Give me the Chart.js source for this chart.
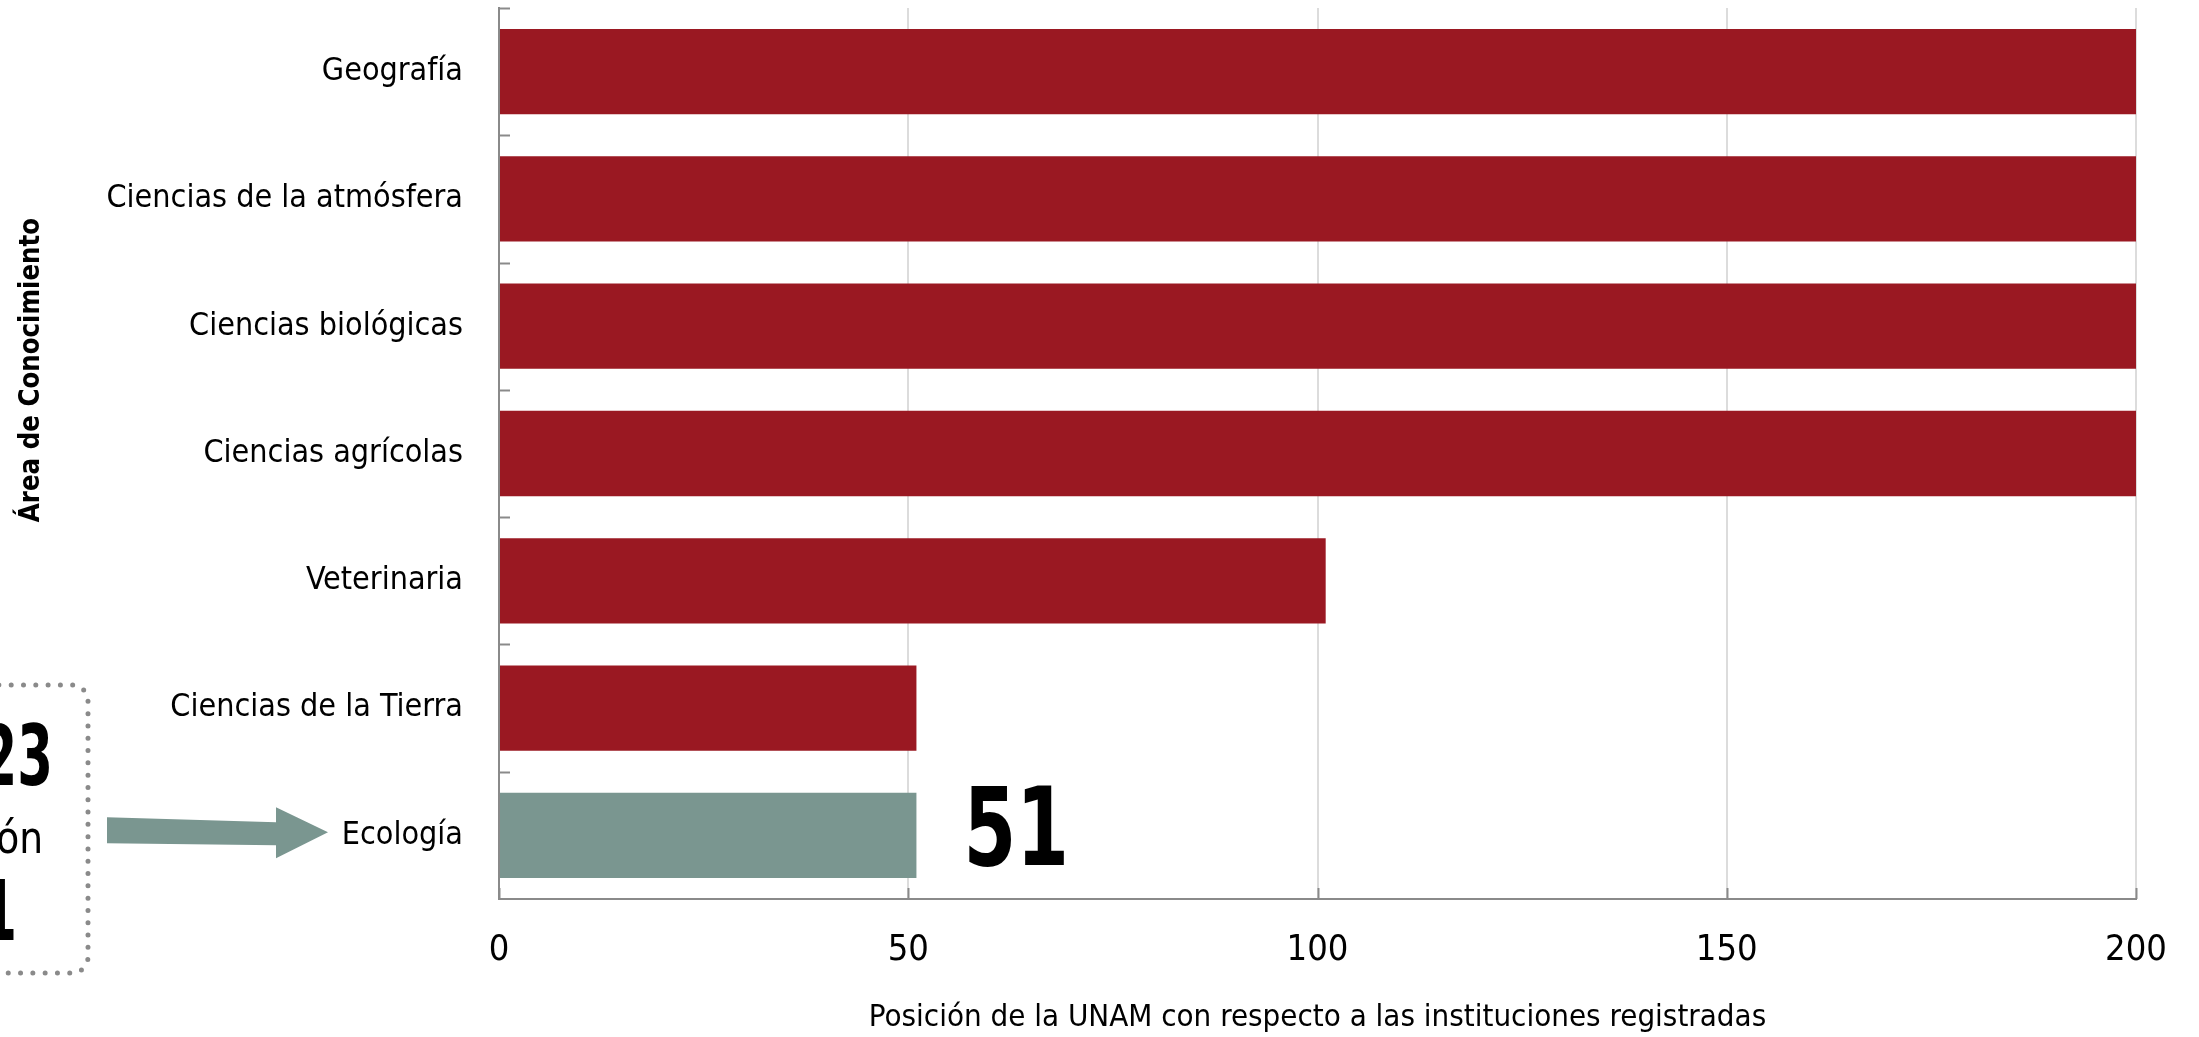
<!DOCTYPE html>
<html>
<head>
<meta charset="utf-8">
<script src="https://cdn.jsdelivr.net/npm/chart.js@4"></script>
<style>
  body { margin: 0; background: #fff; }
  #wrap { width: 2199px; height: 1037px; position: relative; }
</style>
</head>
<body>
<div id="wrap"><canvas id="rankChart"></canvas></div>
<script>
// Data
const categories = ['Geografía', 'Ciencias de la atmósfera', 'Ciencias biológicas',
    'Ciencias agrícolas', 'Veterinaria', 'Ciencias de la Tierra', 'Ecología'];
const positions = [200, 200, 200, 200, 101, 51, 51];
const xTicks = [0, 50, 100, 150, 200];
const highlightIndex = 6;

const FONT = "'Liberation Sans Narrow', 'DejaVu Sans Condensed', 'Roboto', sans-serif";
const RED = '#9a1822';
const TEAL = '#7a9690';
const AXIS = '#8a8a8a';

// Draw condensed text (the original face is narrower than anything installed)
function narrowText(ctx, text, x, y, squeeze) {
    ctx.save();
    ctx.translate(x, y);
    ctx.scale(squeeze, 1);
    ctx.fillText(text, 0, 0);
    ctx.restore();
}

// Extra drawing: inside ticks, value label, side box and arrow
const annotations = {
    id: 'annotations',
    afterDatasetsDraw(chart) {
        const ctx = chart.ctx;
        const x = chart.scales.x;
        const y = chart.scales.y;
        ctx.save();

        // short ticks pointing into the plot
        ctx.strokeStyle = AXIS;
        ctx.lineWidth = 2;
        for (let i = 0; i <= categories.length - 1; i++) {
            const py = Math.round(y.getPixelForValue(i - 0.5)) + 0.5;
            ctx.beginPath();
            ctx.moveTo(x.left, py);
            ctx.lineTo(x.left + 11, py);
            ctx.stroke();
        }
        xTicks.forEach(v => {
            const px = Math.round(x.getPixelForValue(v)) + 0.5;
            ctx.beginPath();
            ctx.moveTo(px, y.bottom);
            ctx.lineTo(px, y.bottom - 11);
            ctx.stroke();
        });

        // value label on the highlighted bar
        const bar = chart.getDatasetMeta(0).data[highlightIndex];
        ctx.fillStyle = '#000';
        ctx.font = 'bold 108px ' + FONT;
        ctx.textAlign = 'left';
        ctx.textBaseline = 'middle';
        narrowText(ctx, String(positions[highlightIndex]), bar.x + 47, bar.y + 2, 0.78);

        // y axis title
        ctx.save();
        ctx.translate(31, 370);
        ctx.rotate(-Math.PI / 2);
        ctx.font = 'bold 29px ' + FONT;
        ctx.textAlign = 'center';
        narrowText(ctx, 'Área de Conocimiento', 0, 0, 0.94);
        ctx.restore();

        // dotted box on the left
        ctx.strokeStyle = AXIS;
        ctx.lineWidth = 5;
        ctx.lineCap = 'round';
        ctx.setLineDash([0, 12.3]);
        ctx.beginPath();
        ctx.roundRect(-300, 685, 388, 288, 16);
        ctx.stroke();
        ctx.setLineDash([]);

        ctx.fillStyle = '#000';
        ctx.textAlign = 'right';
        ctx.textBaseline = 'alphabetic';
        ctx.font = 'bold 84px ' + FONT;
        narrowText(ctx, '2023', 53, 785, 0.68);
        ctx.font = '44px ' + FONT;
        narrowText(ctx, 'Posición', 43, 853, 0.95);
        ctx.font = 'bold 84px ' + FONT;
        narrowText(ctx, '51', 17, 940, 0.68);

        // arrow pointing at the highlighted category
        const ay = bar.y;
        ctx.fillStyle = TEAL;
        ctx.beginPath();
        ctx.moveTo(107, ay - 18);
        ctx.lineTo(276, ay - 13);
        ctx.lineTo(276, ay - 28);
        ctx.lineTo(328, ay - 3);
        ctx.lineTo(276, ay + 23);
        ctx.lineTo(276, ay + 10);
        ctx.lineTo(107, ay + 8);
        ctx.closePath();
        ctx.fill();

        ctx.restore();
    }
};

function initChart() {
    const ctx = document.getElementById('rankChart').getContext('2d');
    new Chart(ctx, {
        type: 'bar',
        data: {
            labels: categories,
            datasets: [{
                data: positions,
                backgroundColor: positions.map((v, i) => i === highlightIndex ? TEAL : RED),
                categoryPercentage: 1,
                barPercentage: 0.67
            }]
        },
        options: {
            indexAxis: 'y',
            responsive: true,
            maintainAspectRatio: false,
            animation: false,
            layout: { padding: { top: 8, right: 63, left: 0, bottom: 0 } },
            plugins: {
                legend: { display: false },
                tooltip: { enabled: false }
            },
            scales: {
                x: {
                    min: 0,
                    max: 200,
                    afterBuildTicks: s => { s.ticks = xTicks.map(v => ({ value: v })); },
                    afterFit: s => { s.height = 138; s.paddingLeft = 0; s.paddingRight = 0; },
                    grid: { color: '#dcdcdc', lineWidth: 2, drawTicks: false },
                    border: { color: AXIS, width: 2 },
                    ticks: { color: '#000', padding: 30, font: { family: FONT, size: 36 } },
                    title: {
                        display: true,
                        text: 'Posición de la UNAM con respecto a las instituciones registradas',
                        color: '#000',
                        font: { family: FONT, size: 31 },
                        padding: { top: 0, bottom: 0 }
                    }
                },
                y: {
                    afterFit: s => { s.width = 499; s.paddingTop = 0; s.paddingBottom = 0; },
                    grid: { display: false, drawTicks: false },
                    border: { color: AXIS, width: 2 },
                    ticks: { color: '#000', padding: 36, font: { family: FONT, size: 32 } }
                }
            }
        },
        plugins: [annotations]
    });
}

window.onload = initChart;
</script>
</body>
</html>
